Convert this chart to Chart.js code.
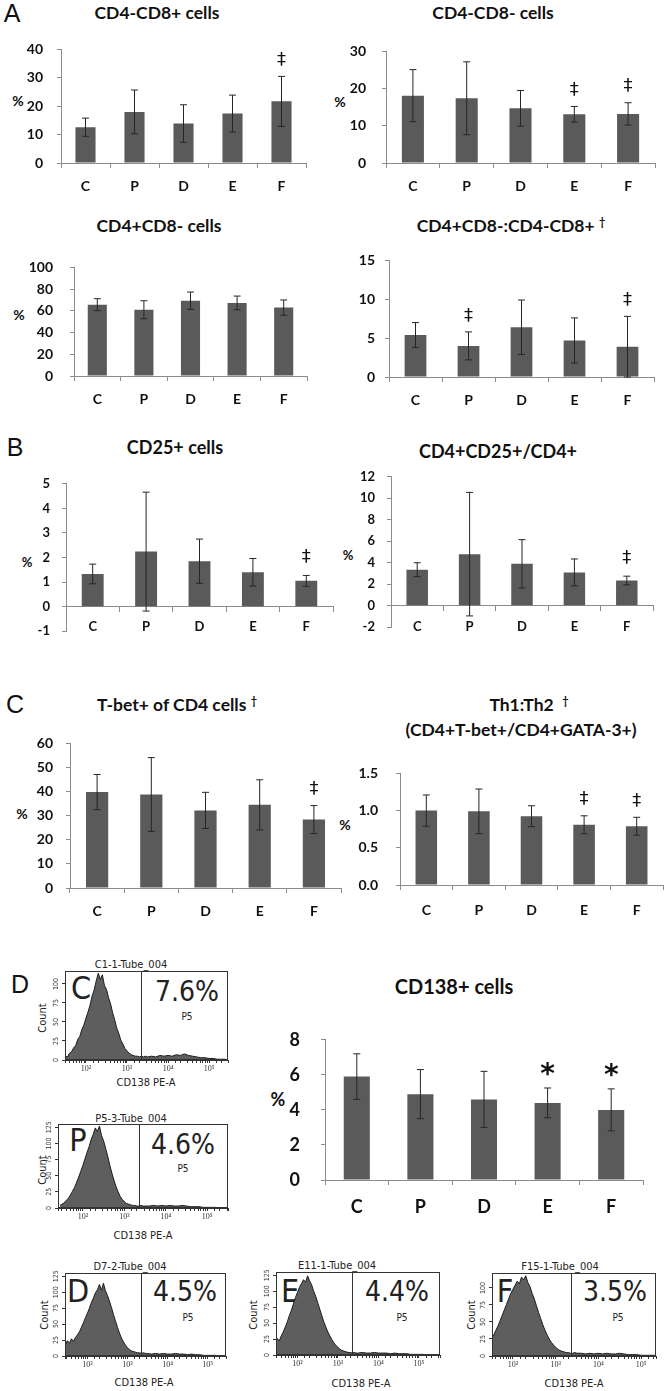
<!DOCTYPE html>
<html>
<head>
<meta charset="utf-8">
<title>T cell subsets and CD138+ cells</title>
<script src="https://cdn.jsdelivr.net/npm/chart.js@4.4.1/dist/chart.umd.min.js"></script>
<style>
  body { margin: 0; background: #fff; }
  #page { position: relative; width: 666px; height: 1391px; overflow: hidden; font-family: Lato, "Open Sans", sans-serif; color: #111; }
  #page canvas { position: absolute; }
  .lbl { position: absolute; transform: translate(-50%, -50%); white-space: nowrap; line-height: 1.1; }
  .b { font-weight: bold; }
  .panel { font-family: "Liberation Sans", Arial, sans-serif; font-size: 25px; }
  .facs { font-family: "Liberation Sans Narrow", "DejaVu Sans Condensed", "Liberation Sans", sans-serif; color: #222; }
  .rot { transform: translate(-50%, -50%) rotate(-90deg); }
  .dag { font-size: 11px; vertical-align: 6px; }
</style>
</head>
<body>
<div id="page">
  <!-- panel letters -->
  <div class="lbl panel" style="left:12px;top:14px">A</div>
  <div class="lbl panel" style="left:15px;top:448px">B</div>
  <div class="lbl panel" style="left:15px;top:705px">C</div>
  <div class="lbl panel" style="left:20px;top:985px">D</div>

  <!-- chart titles -->
  <div class="lbl b" style="left:157px;top:13px;font-size:17.5px">CD4-CD8+ cells</div>
  <div class="lbl b" style="left:493px;top:13px;font-size:17.5px">CD4-CD8- cells</div>
  <div class="lbl b" style="left:159px;top:226px;font-size:17.5px">CD4+CD8- cells</div>
  <div class="lbl b" style="left:511px;top:226px;font-size:17.5px">CD4+CD8-:CD4-CD8+ <span class="dag">†</span></div>
  <div class="lbl b" style="left:175px;top:448px;font-size:18px">CD25+ cells</div>
  <div class="lbl b" style="left:498px;top:452px;font-size:18px">CD4+CD25+/CD4+</div>
  <div class="lbl b" style="left:177px;top:705px;font-size:17.5px">T-bet+ of CD4 cells <span class="dag">†</span></div>
  <div class="lbl b" style="left:529px;top:705px;font-size:17.5px">Th1:Th2 &nbsp;<span class="dag">†</span></div>
  <div class="lbl b" style="left:521px;top:730px;font-size:17.5px">(CD4+T-bet+/CD4+GATA-3+)</div>
  <div class="lbl b" style="left:454px;top:986px;font-size:20px">CD138+ cells</div>

  <!-- % axis labels -->
  <div class="lbl b" style="left:18px;top:101px;font-size:14px">%</div>
  <div class="lbl b" style="left:340px;top:102px;font-size:14px">%</div>
  <div class="lbl b" style="left:19px;top:315px;font-size:14px">%</div>
  <div class="lbl b" style="left:27px;top:562px;font-size:13px">%</div>
  <div class="lbl b" style="left:348px;top:555px;font-size:13px">%</div>
  <div class="lbl b" style="left:22px;top:814px;font-size:14px">%</div>
  <div class="lbl b" style="left:345px;top:825px;font-size:14px">%</div>
  <div class="lbl b" style="left:278px;top:1100px;font-size:18px">%</div>

  <!-- flow cytometry annotations -->
  <div class="lbl facs" style="left:131px;top:965px;font-size:11px">C1-1-Tube_004</div>
  <div class="lbl facs" style="left:81px;top:989px;font-size:32px">C</div>
  <div class="lbl facs" style="left:187px;top:992px;font-size:28px">7.6%</div>
  <div class="lbl facs" style="left:187px;top:1016px;font-size:10px">P5</div>
  <div class="lbl facs rot" style="left:43px;top:1018px;font-size:11px">Count</div>
  <div class="lbl facs" style="left:146px;top:1083px;font-size:11px">CD138 PE-A</div>

  <div class="lbl facs" style="left:131px;top:1119px;font-size:11px">P5-3-Tube_004</div>
  <div class="lbl facs" style="left:78px;top:1141px;font-size:32px">P</div>
  <div class="lbl facs" style="left:183px;top:1145px;font-size:28px">4.6%</div>
  <div class="lbl facs" style="left:183px;top:1168px;font-size:10px">P5</div>
  <div class="lbl facs rot" style="left:43px;top:1170px;font-size:11px">Count</div>
  <div class="lbl facs" style="left:143px;top:1236px;font-size:11px">CD138 PE-A</div>

  <div class="lbl facs" style="left:130px;top:1267px;font-size:11px">D7-2-Tube_004</div>
  <div class="lbl facs" style="left:78px;top:1292px;font-size:32px">D</div>
  <div class="lbl facs" style="left:185px;top:1292px;font-size:28px">4.5%</div>
  <div class="lbl facs" style="left:188px;top:1317px;font-size:10px">P5</div>
  <div class="lbl facs rot" style="left:45px;top:1315px;font-size:11px">Count</div>
  <div class="lbl facs" style="left:144px;top:1383px;font-size:11px">CD138 PE-A</div>

  <div class="lbl facs" style="left:337px;top:1266px;font-size:11px">E11-1-Tube_004</div>
  <div class="lbl facs" style="left:290px;top:1292px;font-size:32px">E</div>
  <div class="lbl facs" style="left:397px;top:1292px;font-size:28px">4.4%</div>
  <div class="lbl facs" style="left:402px;top:1317px;font-size:10px">P5</div>
  <div class="lbl facs rot" style="left:254px;top:1315px;font-size:11px">Count</div>
  <div class="lbl facs" style="left:361px;top:1384px;font-size:11px">CD138 PE-A</div>

  <div class="lbl facs" style="left:560px;top:1267px;font-size:11px">F15-1-Tube_004</div>
  <div class="lbl facs" style="left:505px;top:1292px;font-size:32px">F</div>
  <div class="lbl facs" style="left:615px;top:1292px;font-size:28px">3.5%</div>
  <div class="lbl facs" style="left:618px;top:1317px;font-size:10px">P5</div>
  <div class="lbl facs rot" style="left:472px;top:1315px;font-size:11px">Count</div>
  <div class="lbl facs" style="left:574px;top:1384px;font-size:11px">CD138 PE-A</div>
</div>

<script>
// groups
const groups = ["C", "P", "D", "E", "F"];

// A - CD4-CD8+
const cd8Mean = [12.6, 18.0, 13.9, 17.4, 21.7];
const cd8Sd = [3.2, 7.7, 6.6, 6.5, 8.8];
const cd8Sig = ["", "", "", "", "‡"];

// A - CD4-CD8-
const dnMean = [18.1, 17.4, 14.7, 13.1, 13.2];
const dnSd = [7.0, 9.8, 4.8, 2.1, 3.0];
const dnSig = ["", "", "", "‡", "‡"];

// A - CD4+CD8-
const cd4Mean = [65.7, 61.0, 69.3, 67.3, 63.0];
const cd4Sd = [5.5, 8.3, 8.0, 6.3, 7.0];
const cd4Sig = ["", "", "", "", ""];

// A - CD4+CD8-:CD4-CD8+
const ratioMean = [5.4, 4.0, 6.4, 4.7, 3.9];
const ratioSd = [1.6, 1.8, 3.5, 2.9, 3.9];
const ratioSig = ["", "‡", "", "", "‡"];

// B - CD25+
const cd25Mean = [1.33, 2.24, 1.85, 1.40, 1.05];
const cd25Sd = [0.40, 2.42, 0.90, 0.56, 0.22];
const cd25Sig = ["", "", "", "", "‡"];

// B - CD4+CD25+/CD4+
const tregMean = [3.35, 4.8, 3.9, 3.1, 2.35];
const tregSd = [0.65, 5.75, 2.25, 1.25, 0.4];
const tregSig = ["", "", "", "", "‡"];

// C - T-bet+ of CD4
const tbetMean = [39.8, 38.8, 32.2, 34.5, 28.4];
const tbetSd = [7.3, 15.3, 7.5, 10.4, 5.8];
const tbetSig = ["", "", "", "", "‡"];

// C - Th1:Th2
const thMean = [1.0, 0.99, 0.925, 0.81, 0.79];
const thSd = [0.21, 0.30, 0.14, 0.12, 0.12];
const thSig = ["", "", "", "‡", "‡"];

// D - CD138+
const cd138Mean = [5.9, 4.9, 4.6, 4.4, 4.0];
const cd138Sd = [1.3, 1.4, 1.6, 0.85, 1.2];
const cd138Sig = ["", "", "", "*", "*"];

// D - flow histograms (bins in log10 of CD138 PE-A, counts per bin)
const facsBins = [1.45, 1.50, 1.55, 1.60, 1.65, 1.70, 1.75, 1.80, 1.85, 1.90, 1.95, 2.00, 2.05, 2.10, 2.15, 2.20, 2.25, 2.30, 2.35, 2.40, 2.45, 2.50, 2.55, 2.60, 2.65, 2.70, 2.75, 2.80, 2.85, 2.90, 2.95, 3.00, 3.05, 3.10, 3.15, 3.20, 3.25, 3.30, 3.35, 3.40, 3.45, 3.50, 3.6, 3.7, 3.8, 3.9, 4.0, 4.1, 4.2, 4.3, 4.4, 4.5, 4.6, 4.7, 4.8, 4.9, 5.0, 5.1, 5.2, 5.3, 5.4];
const histC = [3, 5, 4, 9, 11, 16, 19, 27, 31, 40, 46, 55, 63, 72, 84, 92, 104, 114, 106, 112, 98, 93, 82, 74, 62, 53, 42, 35, 26, 21, 15, 12, 9, 7, 6, 5, 5, 4, 5, 4, 5, 4, 5, 4, 6, 5, 6, 5, 7, 6, 8, 6, 5, 4, 3, 3, 2, 2, 1, 1, 1];
const histP = [4, 6, 8, 12, 15, 20, 26, 32, 40, 48, 57, 66, 76, 86, 95, 106, 114, 124, 118, 127, 112, 104, 92, 80, 66, 54, 43, 33, 25, 18, 13, 10, 7, 6, 5, 4, 4, 3, 3, 4, 3, 3, 3, 4, 3, 4, 3, 4, 3, 3, 4, 3, 2, 2, 2, 1, 1, 1, 1, 0, 0];
const histD = [18, 24, 20, 27, 23, 29, 33, 38, 45, 52, 60, 67, 75, 84, 91, 99, 104, 112, 103, 114, 102, 95, 86, 76, 65, 55, 45, 36, 28, 22, 17, 13, 10, 8, 7, 6, 5, 5, 4, 5, 4, 4, 3, 4, 3, 4, 3, 3, 4, 3, 3, 2, 3, 2, 2, 1, 1, 1, 1, 0, 0];
const histE = [20, 26, 22, 30, 36, 44, 52, 62, 70, 80, 90, 98, 106, 112, 118, 114, 124, 116, 110, 100, 92, 82, 72, 62, 52, 44, 36, 30, 24, 19, 15, 12, 9, 7, 6, 5, 4, 4, 3, 4, 3, 3, 4, 3, 3, 4, 3, 3, 3, 2, 3, 2, 2, 2, 1, 1, 1, 1, 0, 0, 0];
const histF = [28, 34, 30, 38, 44, 52, 60, 68, 76, 84, 92, 98, 104, 110, 106, 116, 112, 118, 108, 102, 92, 84, 74, 64, 55, 46, 38, 31, 25, 20, 16, 13, 10, 8, 7, 6, 5, 5, 4, 4, 5, 4, 4, 3, 4, 3, 4, 3, 4, 3, 3, 4, 3, 2, 2, 2, 1, 1, 1, 1, 0];
const gateLog = 3.35;

const page = document.getElementById("page");
const axisGray = "#8c8c8c";

// error bars, significance marks and (for axes crossing at zero) category labels
const errorBars = {
  id: "errorBars",
  afterDatasetsDraw(chart, args, o) {
    const ctx = chart.ctx;
    const { x, y } = chart.scales;
    const ds = chart.data.datasets[0];
    chart.getDatasetMeta(0).data.forEach((bar, i) => {
      const v = ds.data[i], e = o.sd[i];
      const top = y.getPixelForValue(v + e);
      const bot = y.getPixelForValue(v - e);
      ctx.save();
      ctx.strokeStyle = "#262626";
      ctx.lineWidth = 1;
      ctx.beginPath();
      ctx.moveTo(bar.x, top); ctx.lineTo(bar.x, bot);
      ctx.moveTo(bar.x - 3.5, top); ctx.lineTo(bar.x + 3.5, top);
      ctx.moveTo(bar.x - 3.5, bot); ctx.lineTo(bar.x + 3.5, bot);
      ctx.stroke();
      ctx.fillStyle = "#111";
      ctx.textAlign = "center";
      ctx.textBaseline = "middle";
      if (o.sig[i]) {
        ctx.font = o.sigFont;
        ctx.fillText(o.sig[i], bar.x, top - o.sigGap);
      }
      if (o.zeroLabelGap) {
        ctx.font = "bold " + o.fontSize + "px Lato";
        ctx.fillText(groups[i], x.getPixelForValue(i), y.getPixelForValue(0) + o.zeroLabelGap);
      }
      ctx.restore();
    });
  }
};

function barChart(o) {
  const yW = 70, padT = 12, padR = 6, padB = 4;
  const xH = o.atZero ? 0 : 42;
  const left = o.axisX - yW, top = o.topPx - padT;
  const cv = document.createElement("canvas");
  cv.width = o.right + padR - left;
  cv.height = o.botPx - o.topPx + padT + (o.atZero ? padB : xH);
  cv.style.left = left + "px";
  cv.style.top = top + "px";
  page.appendChild(cv);
  const font = { family: "Lato", weight: "bold", size: o.font };
  const lh = o.font * 1.2 / 2;
  new Chart(cv, {
    type: "bar",
    data: {
      labels: groups,
      datasets: [{ data: o.mean, backgroundColor: "#5a5a5a", barPercentage: 0.41, categoryPercentage: 1 }]
    },
    options: {
      responsive: false,
      animation: false,
      events: [],
      layout: { padding: { top: padT, right: padR, bottom: o.atZero ? padB : 0, left: 0 } },
      plugins: {
        legend: { display: false },
        tooltip: { enabled: false },
        errorBars: {
          sd: o.sd, sig: o.sig,
          sigFont: o.sigFont || '18px "DejaVu Sans"', sigGap: o.sigGap || 16,
          zeroLabelGap: o.atZero ? o.xGap : 0, fontSize: o.font
        }
      },
      scales: {
        x: {
          position: o.atZero ? { y: 0 } : "bottom",
          grid: { drawOnChartArea: false, drawTicks: true, tickLength: 5, color: axisGray, offset: true },
          border: { display: true, color: axisGray, width: 1 },
          ticks: { display: !o.atZero, color: "#111", font: font, padding: o.xGap - 5 - lh },
          afterFit: s => { s.height = xH; }
        },
        y: {
          min: o.min,
          max: o.max,
          grid: { drawOnChartArea: false, drawTicks: true, tickLength: 4, color: axisGray },
          border: { display: true, color: axisGray, width: 1 },
          ticks: { stepSize: o.step, color: "#111", font: font, padding: o.yGap - 4, callback: o.fmt || (v => v) },
          afterFit: s => { s.width = yW; }
        }
      }
    },
    plugins: [errorBars]
  });
}

// panel A
barChart({ axisX: 61, right: 306, topPx: 39, botPx: 163, min: 0, max: 40, step: 10, mean: cd8Mean, sd: cd8Sd, sig: cd8Sig, font: 14, yGap: 18, xGap: 23 });
barChart({ axisX: 386, right: 655, topPx: 39, botPx: 163, min: 0, max: 30, step: 10, mean: dnMean, sd: dnSd, sig: dnSig, font: 14, yGap: 20, xGap: 23 });
barChart({ axisX: 74, right: 307, topPx: 254, botPx: 376.5, min: 0, max: 100, step: 20, mean: cd4Mean, sd: cd4Sd, sig: cd4Sig, font: 14, yGap: 21, xGap: 23.5 });
barChart({ axisX: 389, right: 654, topPx: 254, botPx: 377, min: 0, max: 15, step: 5, mean: ratioMean, sd: ratioSd, sig: ratioSig, font: 14, yGap: 14, xGap: 23 });

// panel B (category axis crosses at zero)
barChart({ axisX: 66, right: 333, topPx: 476, botPx: 647.5, min: -1, max: 5, step: 1, atZero: true, mean: cd25Mean, sd: cd25Sd, sig: cd25Sig, font: 13, yGap: 16, xGap: 20, sigGap: 18 });
barChart({ axisX: 391, right: 653, topPx: 469.3, botPx: 644, min: -2, max: 12, step: 2, atZero: true, mean: tregMean, sd: tregSd, sig: tregSig, font: 13, yGap: 16, xGap: 21, sigGap: 18 });

// panel C
barChart({ axisX: 70, right: 341, topPx: 734, botPx: 888, min: 0, max: 60, step: 10, mean: tbetMean, sd: tbetSd, sig: tbetSig, font: 14, yGap: 17, xGap: 23 });
barChart({ axisX: 400, right: 663, topPx: 759, botPx: 885, min: 0, max: 1.5, step: 0.5, mean: thMean, sd: thSd, sig: thSig, font: 14, yGap: 22, xGap: 25, fmt: v => v.toFixed(1) });

// panel D bar chart
barChart({ axisX: 325, right: 643, topPx: 1020, botPx: 1180, min: 0, max: 8, step: 2, mean: cd138Mean, sd: cd138Sd, sig: cd138Sig, font: 18, yGap: 25, xGap: 27, sigFont: 'bold 28px "DejaVu Sans"', sigGap: 12 });

// flow cytometry frame, gate and rotated count ticks
const facsFrame = {
  id: "facsFrame",
  afterDraw(chart, args, o) {
    const { ctx, chartArea: a, scales: { x, y } } = chart;
    ctx.save();
    ctx.strokeStyle = "#333";
    ctx.lineWidth = 1;
    ctx.strokeRect(Math.round(a.left) + 0.5, Math.round(a.top) + 0.5, Math.round(a.right - a.left) - 1, Math.round(a.bottom - a.top) - 1);
    const gx = Math.round(x.getPixelForValue(Math.pow(10, o.gate))) + 0.5;
    ctx.beginPath();
    ctx.moveTo(gx, a.top);
    ctx.lineTo(gx, a.bottom);
    ctx.stroke();
    ctx.fillStyle = "#333";
    ctx.font = '7px "Liberation Sans Narrow", "DejaVu Sans Condensed", sans-serif';
    ctx.textAlign = "center";
    ctx.textBaseline = "middle";
    y.ticks.forEach(t => {
      const py = y.getPixelForValue(t.value);
      ctx.save();
      ctx.translate(a.left - 9, py);
      ctx.rotate(-Math.PI / 2);
      ctx.fillText(String(t.value), 0, 0);
      ctx.restore();
    });
    ctx.restore();
  }
};

const sup = { 2: "²", 3: "³", 4: "⁴", 5: "⁵" };

function histChart(o) {
  const yW = 18, padT = 2, padR = 3, xH = 20;
  const left = o.left - yW, top = o.top - padT;
  const cv = document.createElement("canvas");
  cv.width = o.right - o.left + yW + padR;
  cv.height = o.bottom - o.top + padT + xH;
  cv.style.left = left + "px";
  cv.style.top = top + "px";
  page.appendChild(cv);
  const pts = facsBins.map((b, i) => ({ x: Math.pow(10, b), y: o.counts[i] }));
  new Chart(cv, {
    type: "line",
    data: {
      datasets: [{ data: pts, fill: "origin", backgroundColor: "#5e5e5e", borderColor: "#1c1c1c", borderWidth: 1, pointRadius: 0, tension: 0 }]
    },
    options: {
      responsive: false,
      animation: false,
      events: [],
      layout: { padding: { top: padT, right: padR, bottom: 0, left: 0 } },
      plugins: { legend: { display: false }, tooltip: { enabled: false }, facsFrame: { gate: gateLog } },
      scales: {
        x: {
          type: "logarithmic",
          min: Math.pow(10, o.xmin),
          max: Math.pow(10, o.xmax),
          grid: { drawOnChartArea: false, drawTicks: true, tickLength: 3, color: "#333" },
          border: { display: true, color: "#333" },
          ticks: {
            autoSkip: false, maxRotation: 0, padding: 1, color: "#333",
            font: { family: "Liberation Sans Narrow", size: 8 },
            callback: v => {
              const e = Math.log10(v);
              return Math.abs(e - Math.round(e)) < 1e-6 && sup[Math.round(e)] ? "10" + sup[Math.round(e)] : "";
            }
          },
          afterFit: s => { s.height = xH; }
        },
        y: {
          min: 0,
          max: o.ymax,
          grid: { drawOnChartArea: false, drawTicks: true, tickLength: 3, color: "#333" },
          border: { display: true, color: "#333" },
          ticks: { display: false, stepSize: 25, includeBounds: false },
          afterFit: s => { s.width = yW; }
        }
      }
    },
    plugins: [facsFrame]
  });
}

histChart({ left: 65, right: 228, top: 971, bottom: 1060, ymax: 117, xmin: 1.49, xmax: 5.46, counts: histC });
histChart({ left: 58, right: 228, top: 1124, bottom: 1208, ymax: 130, xmin: 1.40, xmax: 5.50, counts: histP });
histChart({ left: 65, right: 226, top: 1273, bottom: 1356, ymax: 130, xmin: 1.44, xmax: 5.46, counts: histD });
histChart({ left: 276, right: 440, top: 1272, bottom: 1355, ymax: 130, xmin: 1.47, xmax: 5.52, counts: histE });
histChart({ left: 492, right: 656, top: 1273, bottom: 1356, ymax: 122, xmin: 1.51, xmax: 5.35, counts: histF });
</script>
</body>
</html>
